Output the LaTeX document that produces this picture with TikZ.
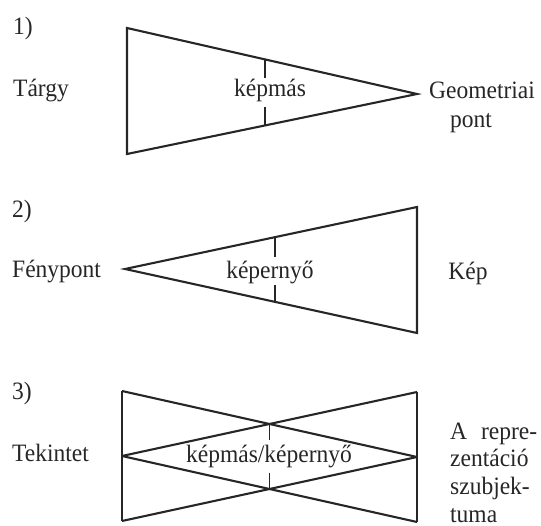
\documentclass[tikz,border=0pt]{standalone}
\usepackage{fontspec}
\setmainfont{Liberation Serif}[FakeStretch=0.94]
\definecolor{ink}{HTML}{262626}
\begin{document}
\begin{tikzpicture}[x=1pt,y=-1pt,
  edge/.style={draw=ink,line width=2.1pt,line join=miter},
  tick/.style={draw=ink,line width=1.8pt},
  lbl/.style={anchor=base,inner sep=0pt,text=ink,font=\fontsize{25}{30}\selectfont},
  lblw/.style={lbl,anchor=base west}]
\useasboundingbox (0,0) rectangle (541,526);

% ---- 1) object -> image -> geometric point
\coordinate (a1) at (127,28);
\coordinate (b1) at (127,154);
\coordinate (c1) at (417,94);
\draw[edge] (a1) -- (b1) -- (c1) -- cycle;
\coordinate (t1a) at (265,59.4);
\coordinate (t1b) at (265,78);
\coordinate (t1c) at (265,107);
\coordinate (t1d) at (265,125.4);
\draw[tick] (t1a) -- (t1b);
\draw[tick] (t1c) -- (t1d);
\node[lblw] (n1) at (13,35) {1)};
\node[lblw] (obj) at (13,97) {Tárgy};
\node[lbl] (img1) at (270,97) {képmás};
\node[lblw] (geo) at (429,99) {Geometriai};
\node[lbl] (pt) at (471,128) {pont};

% ---- 2) light point -> screen -> picture
\coordinate (a2) at (125,269);
\coordinate (b2) at (417,207);
\coordinate (c2) at (417,333);
\draw[edge] (a2) -- (b2) -- (c2) -- cycle;
\coordinate (t2a) at (275,237.2);
\coordinate (t2b) at (275,257);
\coordinate (t2c) at (275,285);
\coordinate (t2d) at (275,301.9);
\draw[tick] (t2a) -- (t2b);
\draw[tick] (t2c) -- (t2d);
\node[lblw] (n2) at (12,218) {2)};
\node[lblw] (light) at (12,278) {Fénypont};
\node[lbl] (scr) at (270,279) {képernyő};
\node[lbl] (pic) at (468,280) {Kép};

% ---- 3) gaze <-> subject of representation
\coordinate (tl) at (122,391);
\coordinate (bl) at (122,521);
\coordinate (tr) at (417,392);
\coordinate (br) at (417,522);
\coordinate (lm) at (122,456);
\coordinate (rm) at (417,457);
\draw[edge] (tl) -- (bl);
\draw[edge] (tr) -- (br);
\draw[edge] (tl) -- (rm);
\draw[edge] (lm) -- (tr);
\draw[edge] (lm) -- (br);
\draw[edge] (bl) -- (rm);
\coordinate (xu) at (intersection of tl--rm and lm--tr);
\coordinate (xd) at (intersection of bl--rm and lm--br);
\coordinate (t3b) at ([yshift=-16pt]xu);
\coordinate (t3c) at ([yshift=16pt]xd);
\draw[tick] (xu) -- (t3b);
\draw[tick] (t3c) -- (xd);
\node[lblw] (n3) at (12,400) {3)};
\node[lblw] (gaze) at (12,461) {Tekintet};
\node[lbl] (mid) at (269,462) {képmás/képernyő};
\node[lblw] (s1) at (450,440) {A\hspace{14pt}repre-};
\node[lblw] (s2) at (450,467) {zentáció};
\node[lblw] (s3) at (450,494) {szubjek-};
\node[lblw] (s4) at (450,522) {tuma};
\end{tikzpicture}
\end{document}
